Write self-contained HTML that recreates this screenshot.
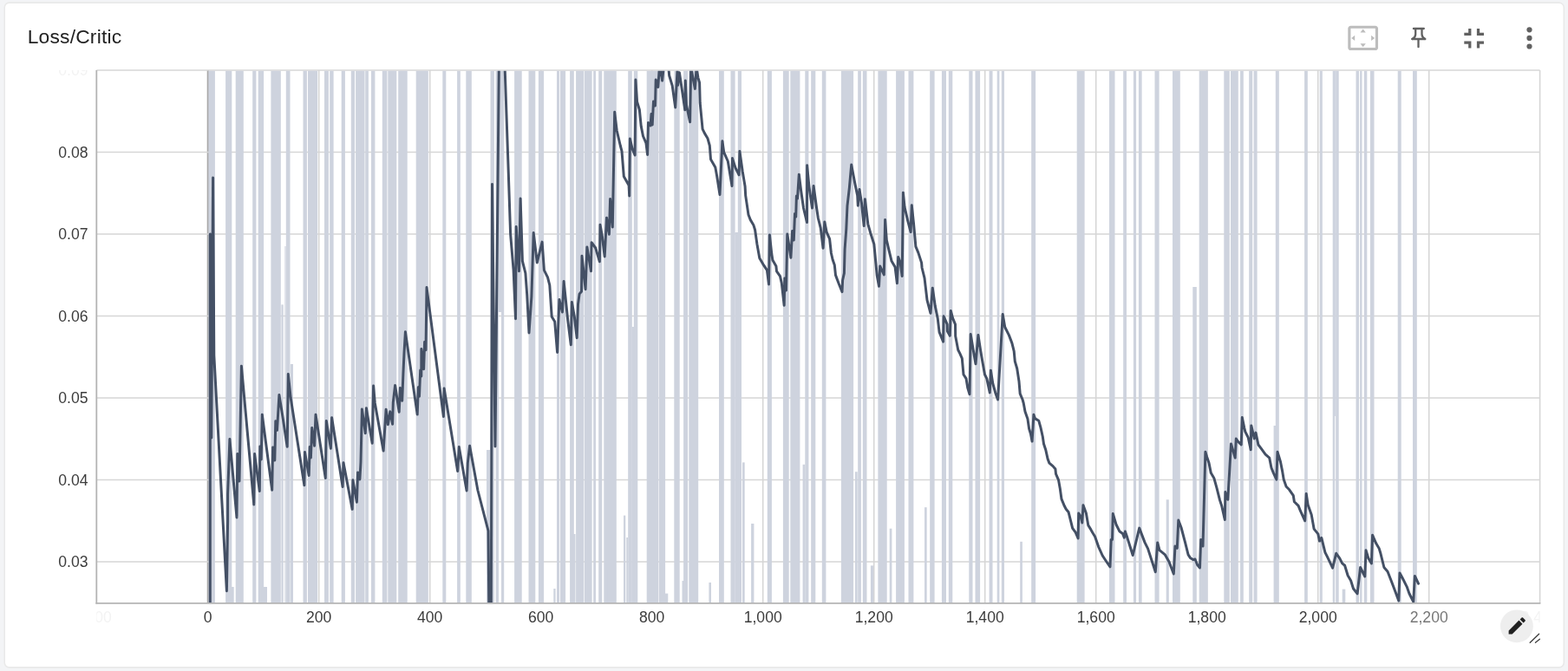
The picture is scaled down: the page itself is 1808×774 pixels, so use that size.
<!DOCTYPE html>
<html><head><meta charset="utf-8"><title>Loss/Critic</title>
<style>
html,body{margin:0;padding:0;}
body{width:1808px;height:774px;background:#f3f4f6;overflow:hidden;position:relative;font-family:"Liberation Sans",Arial,sans-serif;}
.title{position:absolute;left:31.7px;top:28.3px;font-size:22.8px;line-height:28px;color:#222;white-space:nowrap;letter-spacing:0.2px;}
svg.chart,svg.icons{position:absolute;left:0;top:0;}
</style></head>
<body>
<svg class="chart" width="1808" height="774" viewBox="0 0 1808 774"><defs><clipPath id="plotclip"><rect x="111.30" y="81.80" width="1664.30" height="614.00"/></clipPath><clipPath id="xlabclip"><rect x="111.30" y="690" width="1664.30" height="40"/></clipPath><clipPath id="ylabclip"><rect x="40" y="81.00" width="80" height="40"/></clipPath></defs><rect x="5.2" y="3.1" width="1798.1" height="766.8" rx="5.6" fill="#fff" stroke="#e9e9e9" stroke-width="1.6"/><line x1="239.80" y1="81.00" x2="239.80" y2="695.80" stroke="#a8a8a8" stroke-width="2.2"/><line x1="367.70" y1="81.00" x2="367.70" y2="695.80" stroke="#d6d6d6" stroke-width="1.6"/><line x1="495.70" y1="81.00" x2="495.70" y2="695.80" stroke="#d6d6d6" stroke-width="1.6"/><line x1="623.70" y1="81.00" x2="623.70" y2="695.80" stroke="#d6d6d6" stroke-width="1.6"/><line x1="751.70" y1="81.00" x2="751.70" y2="695.80" stroke="#d6d6d6" stroke-width="1.6"/><line x1="879.70" y1="81.00" x2="879.70" y2="695.80" stroke="#d6d6d6" stroke-width="1.6"/><line x1="1007.70" y1="81.00" x2="1007.70" y2="695.80" stroke="#d6d6d6" stroke-width="1.6"/><line x1="1135.70" y1="81.00" x2="1135.70" y2="695.80" stroke="#d6d6d6" stroke-width="1.6"/><line x1="1263.70" y1="81.00" x2="1263.70" y2="695.80" stroke="#d6d6d6" stroke-width="1.6"/><line x1="1391.70" y1="81.00" x2="1391.70" y2="695.80" stroke="#d6d6d6" stroke-width="1.6"/><line x1="1519.70" y1="81.00" x2="1519.70" y2="695.80" stroke="#d6d6d6" stroke-width="1.6"/><line x1="1647.70" y1="81.00" x2="1647.70" y2="695.80" stroke="#d6d6d6" stroke-width="1.6"/><line x1="111.30" y1="648.00" x2="1775.60" y2="648.00" stroke="#d6d6d6" stroke-width="1.6"/><line x1="111.30" y1="553.50" x2="1775.60" y2="553.50" stroke="#d6d6d6" stroke-width="1.6"/><line x1="111.30" y1="459.00" x2="1775.60" y2="459.00" stroke="#d6d6d6" stroke-width="1.6"/><line x1="111.30" y1="364.50" x2="1775.60" y2="364.50" stroke="#d6d6d6" stroke-width="1.6"/><line x1="111.30" y1="270.00" x2="1775.60" y2="270.00" stroke="#d6d6d6" stroke-width="1.6"/><line x1="111.30" y1="175.50" x2="1775.60" y2="175.50" stroke="#d6d6d6" stroke-width="1.6"/><line x1="111.30" y1="81.00" x2="1775.60" y2="81.00" stroke="#d6d6d6" stroke-width="1.6"/><line x1="1775.60" y1="81.00" x2="1775.60" y2="695.80" stroke="#d6d6d6" stroke-width="1.6"/><g fill="#ced3de"><rect x="240.4" y="81.8" width="7.5" height="614.0"/><rect x="260.1" y="81.8" width="7.2" height="614.0"/><rect x="271.7" y="81.8" width="9.1" height="614.0"/><rect x="291.2" y="81.8" width="4.2" height="614.0"/><rect x="297.7" y="81.8" width="6.4" height="614.0"/><rect x="312.4" y="81.8" width="11.4" height="614.0"/><rect x="329.8" y="81.8" width="4.7" height="614.0"/><rect x="349.5" y="81.8" width="4.4" height="614.0"/><rect x="355.0" y="81.8" width="11.1" height="614.0"/><rect x="374.0" y="81.8" width="4.9" height="614.0"/><rect x="380.2" y="81.8" width="4.4" height="614.0"/><rect x="393.7" y="81.8" width="4.2" height="614.0"/><rect x="404.8" y="81.8" width="4.2" height="614.0"/><rect x="410.1" y="81.8" width="10.4" height="614.0"/><rect x="421.2" y="81.8" width="3.7" height="614.0"/><rect x="428.0" y="81.8" width="4.4" height="614.0"/><rect x="440.8" y="81.8" width="5.6" height="614.0"/><rect x="447.3" y="81.8" width="10.0" height="614.0"/><rect x="459.2" y="81.8" width="10.5" height="614.0"/><rect x="479.7" y="81.8" width="14.1" height="614.0"/><rect x="510.3" y="81.8" width="4.0" height="614.0"/><rect x="527.1" y="81.8" width="3.7" height="614.0"/><rect x="537.3" y="81.8" width="6.5" height="614.0"/><rect x="565.5" y="81.8" width="4.4" height="614.0"/><rect x="571.6" y="81.8" width="3.4" height="614.0"/><rect x="578.0" y="81.8" width="3.2" height="614.0"/><rect x="593.1" y="81.8" width="8.6" height="614.0"/><rect x="609.5" y="81.8" width="7.8" height="614.0"/><rect x="620.9" y="81.8" width="6.2" height="614.0"/><rect x="642.0" y="81.8" width="3.0" height="614.0"/><rect x="645.9" y="81.8" width="6.2" height="614.0"/><rect x="657.1" y="81.8" width="4.7" height="614.0"/><rect x="664.1" y="81.8" width="9.1" height="614.0"/><rect x="673.9" y="81.8" width="8.7" height="614.0"/><rect x="684.2" y="81.8" width="2.8" height="614.0"/><rect x="690.2" y="81.8" width="4.0" height="614.0"/><rect x="696.3" y="81.8" width="14.5" height="614.0"/><rect x="724.2" y="81.8" width="4.6" height="614.0"/><rect x="730.8" y="81.8" width="4.5" height="614.0"/><rect x="745.7" y="81.8" width="13.7" height="614.0"/><rect x="760.0" y="81.8" width="7.1" height="614.0"/><rect x="777.3" y="81.8" width="6.4" height="614.0"/><rect x="788.1" y="81.8" width="5.0" height="614.0"/><rect x="794.3" y="81.8" width="10.9" height="614.0"/><rect x="829.0" y="81.8" width="5.8" height="614.0"/><rect x="842.5" y="81.8" width="5.1" height="614.0"/><rect x="850.8" y="81.8" width="4.2" height="614.0"/><rect x="884.8" y="81.8" width="5.1" height="614.0"/><rect x="902.9" y="81.8" width="6.8" height="614.0"/><rect x="911.3" y="81.8" width="11.1" height="614.0"/><rect x="928.3" y="81.8" width="4.1" height="614.0"/><rect x="935.2" y="81.8" width="5.1" height="614.0"/><rect x="947.8" y="81.8" width="4.6" height="614.0"/><rect x="969.9" y="81.8" width="14.2" height="614.0"/><rect x="989.2" y="81.8" width="3.7" height="614.0"/><rect x="994.8" y="81.8" width="4.7" height="614.0"/><rect x="1012.4" y="81.8" width="10.3" height="614.0"/><rect x="1033.1" y="81.8" width="9.8" height="614.0"/><rect x="1047.5" y="81.8" width="5.9" height="614.0"/><rect x="1072.2" y="81.8" width="5.4" height="614.0"/><rect x="1085.9" y="81.8" width="5.1" height="614.0"/><rect x="1093.8" y="81.8" width="4.5" height="614.0"/><rect x="1117.3" y="81.8" width="4.2" height="614.0"/><rect x="1124.5" y="81.8" width="5.6" height="614.0"/><rect x="1140.6" y="81.8" width="3.9" height="614.0"/><rect x="1149.7" y="81.8" width="2.7" height="614.0"/><rect x="1154.8" y="81.8" width="3.2" height="614.0"/><rect x="1189.2" y="81.8" width="4.9" height="614.0"/><rect x="1241.7" y="81.8" width="8.9" height="614.0"/><rect x="1279.0" y="81.8" width="6.5" height="614.0"/><rect x="1295.2" y="81.8" width="3.8" height="614.0"/><rect x="1306.9" y="81.8" width="3.2" height="614.0"/><rect x="1312.9" y="81.8" width="3.7" height="614.0"/><rect x="1331.5" y="81.8" width="5.1" height="614.0"/><rect x="1352.0" y="81.8" width="8.8" height="614.0"/><rect x="1382.7" y="81.8" width="10.0" height="614.0"/><rect x="1411.3" y="81.8" width="6.5" height="614.0"/><rect x="1419.0" y="81.8" width="8.8" height="614.0"/><rect x="1430.1" y="81.8" width="3.7" height="614.0"/><rect x="1440.2" y="81.8" width="4.0" height="614.0"/><rect x="1445.6" y="81.8" width="4.0" height="614.0"/><rect x="1470.8" y="81.8" width="4.0" height="614.0"/><rect x="1504.1" y="81.8" width="3.7" height="614.0"/><rect x="1521.7" y="81.8" width="3.1" height="614.0"/><rect x="1536.7" y="81.8" width="2.5" height="614.0"/><rect x="1540.2" y="81.8" width="3.5" height="614.0"/><rect x="1563.5" y="81.8" width="3.5" height="614.0"/><rect x="1568.1" y="81.8" width="2.4" height="614.0"/><rect x="1572.8" y="81.8" width="3.5" height="614.0"/><rect x="1579.9" y="81.8" width="4.6" height="614.0"/><rect x="1611.7" y="81.8" width="4.0" height="614.0"/><rect x="1629.0" y="81.8" width="4.8" height="614.0"/><rect x="267.0" y="677.0" width="2.7" height="18.8"/><rect x="304.0" y="677.0" width="4.0" height="18.8"/><rect x="561.0" y="519.0" width="4.0" height="176.8"/><rect x="638.3" y="679.0" width="2.3" height="16.8"/><rect x="661.0" y="616.0" width="2.5" height="79.8"/><rect x="676.9" y="649.0" width="1.7" height="46.8"/><rect x="698.7" y="658.0" width="1.7" height="37.8"/><rect x="719.0" y="594.6" width="2.3" height="101.2"/><rect x="722.3" y="620.0" width="1.7" height="75.8"/><rect x="754.5" y="654.0" width="2.4" height="41.8"/><rect x="767.0" y="684.6" width="3.3" height="11.2"/><rect x="786.5" y="670.0" width="2.3" height="25.8"/><rect x="817.4" y="671.9" width="2.6" height="23.9"/><rect x="856.0" y="533.4" width="2.7" height="162.4"/><rect x="866.1" y="604.0" width="3.3" height="91.8"/><rect x="925.6" y="535.8" width="2.7" height="160.0"/><rect x="986.0" y="544.2" width="2.7" height="151.6"/><rect x="1003.9" y="652.4" width="3.3" height="43.4"/><rect x="1025.7" y="609.7" width="2.7" height="86.1"/><rect x="1066.0" y="585.2" width="2.7" height="110.6"/><rect x="1176.2" y="624.8" width="2.7" height="71.0"/><rect x="1344.7" y="576.3" width="3.1" height="119.5"/><rect x="1375.3" y="331.0" width="4.5" height="364.8"/><rect x="1468.6" y="491.0" width="2.6" height="204.8"/><rect x="1547.7" y="679.6" width="3.6" height="16.2"/><rect x="728.6" y="377.0" width="2.4" height="318.8"/><rect x="847.4" y="268.0" width="3.6" height="427.8"/><rect x="324.4" y="351.4" width="2.3" height="344.4"/><rect x="328.4" y="284.0" width="1.2" height="411.8"/><rect x="334.9" y="420.0" width="3.1" height="275.8"/><rect x="575.0" y="81.8" width="3.0" height="278.2"/><rect x="1539.1" y="81.8" width="1.2" height="398.2"/></g><g clip-path="url(#plotclip)"><polyline points="242.3,700.0 242.3,270.0 243.8,505.0 245.6,205.0 246.8,410.0 261.4,681.7 262.6,601.5 262.6,570.1 264.9,506.5 273.0,596.9 273.8,523.6 276.0,555.0 278.4,422.3 292.8,582.0 293.6,523.6 299.3,566.5 299.8,514.9 301.2,530.0 302.3,478.3 313.7,565.3 314.6,516.0 316.8,531.0 317.8,485.8 319.5,496.3 321.9,455.6 325.3,476.5 331.2,515.3 332.3,431.4 335.2,459.1 350.9,559.8 351.5,521.6 356.2,548.4 357.2,515.6 358.4,528.0 359.7,493.4 362.6,514.3 364.0,478.3 375.3,551.4 376.3,485.6 381.4,517.2 382.6,481.7 395.1,561.5 396.0,533.8 406.2,587.4 406.9,553.7 411.4,579.3 412.6,544.9 414.9,553.0 416.0,533.1 417.4,471.9 421.3,499.8 422.4,470.7 429.2,511.3 430.6,445.1 432.3,464.9 442.1,520.1 445.1,472.3 447.4,489.8 449.8,474.7 452.6,489.3 453.3,464.2 455.6,444.4 460.2,475.3 461.4,447.4 463.7,462.3 464.9,431.6 466.0,407.2 467.4,382.8 481.2,478.1 482.3,446.7 483.5,457.2 484.7,427.0 485.8,434.0 485.9,402.6 488.6,425.8 489.6,394.4 491.0,403.7 492.0,331.6 511.4,480.5 512.1,447.9 527.7,543.4 529.3,515.5 538.1,565.9 539.3,534.1 541.6,514.3 550.9,565.5 563.0,612.4 564.0,720.0 566.3,720.0 567.5,212.4 571.0,515.0 575.5,60.0 578.0,20.0 581.5,60.0 586.3,200.0 588.6,269.8 592.1,311.6 594.5,367.7 595.2,261.6 598.5,312.8 600.1,229.0 602.4,301.2 605.9,315.1 607.7,340.0 610.0,384.0 612.9,342.0 615.2,268.6 619.3,302.9 625.1,279.1 627.4,311.6 631.5,319.8 633.8,329.0 636.2,365.2 639.7,371.0 642.6,406.5 644.9,345.5 648.4,360.0 650.1,324.4 654.8,369.9 658.3,397.8 659.4,348.4 662.3,365.2 665.2,389.7 666.5,351.0 668.1,339.1 670.5,336.2 671.0,295.3 675.1,333.7 676.9,284.9 681.5,312.8 682.1,279.7 686.7,286.0 691.4,301.7 692.0,259.3 694.3,272.1 697.2,295.9 699.5,251.2 702.4,270.3 703.6,229.5 706.3,262.0 708.7,129.2 711.2,150.5 715.3,168.0 717.0,174.3 719.3,203.4 725.1,213.8 725.7,226.0 726.4,160.0 729.2,172.0 732.1,179.0 732.9,92.0 734.6,117.5 737.4,126.8 739.2,145.4 741.5,157.0 745.0,165.2 746.6,178.4 747.5,141.5 750.0,145.0 751.0,131.5 752.2,144.0 753.5,117.0 755.5,122.0 756.2,92.0 758.8,100.5 760.1,81.5 761.0,75.0 763.6,93.1 764.8,81.5 766.0,75.0 770.6,75.0 771.7,87.3 775.2,98.9 778.7,123.9 781.0,81.5 781.6,98.3 783.4,83.8 786.9,107.1 789.8,126.8 790.3,93.1 791.5,121.0 795.6,140.8 796.7,78.0 801.4,102.4 803.1,78.0 804.9,89.6 806.6,95.4 807.2,118.7 810.1,148.9 812.4,153.6 815.9,159.4 818.3,168.0 819.5,183.7 824.8,193.0 826.5,202.3 830.0,224.4 832.9,162.8 834.7,175.6 839.3,186.0 844.0,214.5 844.5,182.6 848.0,193.6 852.1,201.7 852.9,174.4 856.2,197.7 859.1,215.1 859.7,225.6 863.0,247.8 865.3,253.6 868.8,259.4 870.6,265.2 872.9,281.5 875.8,297.8 879.9,304.8 882.1,308.1 884.4,311.6 886.5,327.9 887.4,271.0 889.8,293.1 890.9,300.1 894.9,307.0 895.5,312.8 899.5,318.6 901.3,326.7 904.2,352.3 904.8,320.9 906.5,334.9 907.8,269.9 911.9,297.2 913.6,266.4 915.3,276.9 916.5,246.6 917.7,250.1 918.4,226.0 919.5,229.1 921.3,201.2 923.6,219.8 926.5,240.0 930.5,256.5 930.6,190.7 932.9,215.1 936.5,240.0 938.1,214.5 941.6,240.0 943.3,251.3 946.2,262.9 949.1,286.2 950.8,255.9 953.1,267.6 956.6,275.7 958.4,292.0 960.1,299.5 962.3,305.8 963.5,317.4 967.0,326.7 971.0,336.6 971.6,323.3 973.4,315.1 974.1,287.3 975.8,264.1 977.0,237.3 979.4,216.3 981.7,190.1 985.8,211.6 988.7,225.6 989.3,237.2 991.0,218.6 993.4,233.7 996.2,260.6 997.4,229.7 1000.8,258.3 1003.7,268.7 1007.8,281.5 1011.2,317.4 1013.5,330.2 1014.7,307.0 1019.3,316.9 1020.6,253.6 1022.3,276.9 1024.7,287.3 1028.1,301.3 1032.1,308.1 1034.4,326.7 1035.7,296.6 1038.0,302.4 1040.2,318.6 1041.4,222.2 1043.1,239.1 1046.6,254.2 1050.1,267.6 1051.3,236.7 1053.6,258.8 1055.9,284.4 1058.8,291.4 1062.6,303.1 1063.1,309.0 1066.0,320.6 1069.0,346.2 1073.0,361.3 1075.3,332.2 1078.3,353.1 1081.2,367.1 1083.1,383.1 1087.6,394.2 1088.1,364.8 1092.2,374.1 1092.4,382.0 1095.3,387.2 1096.3,358.4 1098.6,367.1 1101.5,374.1 1101.7,387.8 1104.7,403.5 1107.0,408.1 1109.3,413.4 1111.0,432.0 1114.0,436.6 1115.7,447.1 1118.0,454.7 1119.2,385.5 1122.1,402.9 1125.0,419.8 1127.9,386.6 1130.8,405.2 1132.6,415.7 1135.5,432.0 1137.8,436.6 1141.3,452.9 1142.4,427.3 1144.8,442.4 1147.7,452.9 1150.6,461.0 1156.2,362.4 1158.7,377.3 1163.4,386.6 1166.9,395.9 1169.2,405.2 1170.3,416.9 1172.7,425.0 1175.0,440.1 1176.2,454.1 1179.1,461.0 1180.2,465.0 1182.0,474.8 1184.9,482.9 1186.6,494.5 1188.4,500.3 1190.1,509.1 1191.9,478.3 1193.6,482.9 1197.7,485.2 1200.0,493.4 1202.3,503.8 1203.5,512.0 1205.8,519.0 1208.1,529.4 1209.9,534.1 1214.0,537.6 1216.9,541.0 1217.5,546.6 1220.5,553.6 1222.2,562.9 1224.0,575.7 1227.4,583.8 1229.2,587.3 1232.1,590.8 1234.4,600.1 1236.7,609.4 1240.2,614.1 1243.1,621.0 1243.7,592.0 1246.0,595.5 1247.8,603.0 1249.0,582.7 1252.4,592.0 1254.8,605.9 1257.7,610.6 1259.7,614.3 1262.6,619.0 1266.6,630.6 1271.3,641.0 1275.9,648.0 1280.0,653.8 1281.2,622.4 1282.5,622.4 1283.3,592.6 1287.0,605.0 1291.0,613.1 1294.5,615.5 1296.3,620.1 1297.4,613.1 1299.8,620.1 1306.2,640.5 1313.7,609.1 1320.1,625.9 1323.6,632.9 1332.3,659.7 1334.7,625.9 1337.0,634.7 1343.4,639.9 1348.0,648.0 1353.3,662.0 1355.0,630.0 1357.3,632.3 1358.8,600.1 1362.0,608.5 1366.6,625.9 1370.1,639.9 1372.4,643.4 1376.0,645.7 1378.0,645.0 1380.6,651.5 1383.5,655.0 1384.7,622.4 1387.0,630.0 1389.9,521.2 1391.6,527.0 1394.0,534.0 1396.3,545.6 1399.8,551.4 1403.0,562.9 1406.5,576.9 1408.8,583.8 1412.3,599.5 1412.9,567.6 1415.8,576.3 1419.5,511.9 1424.2,528.1 1425.3,506.0 1427.7,509.5 1431.2,513.0 1432.3,481.6 1434.7,493.3 1435.8,497.9 1439.3,504.9 1442.2,518.8 1442.8,490.9 1446.3,506.0 1448.0,499.1 1450.9,513.0 1454.4,517.7 1459.1,524.1 1463.7,528.1 1466.0,539.8 1468.4,545.6 1471.9,553.1 1473.0,521.2 1476.5,532.8 1478.8,544.4 1480.2,553.1 1483.1,561.3 1486.6,564.8 1491.3,571.7 1492.4,578.7 1497.1,583.4 1499.4,589.2 1504.7,600.8 1506.2,569.4 1508.1,582.2 1512.2,593.8 1515.1,610.1 1519.8,615.9 1521.5,624.1 1523.8,620.4 1527.9,637.1 1530.8,642.9 1536.6,655.1 1540.7,638.3 1544.8,644.1 1547.7,649.9 1550.6,652.2 1554.1,663.8 1557.6,669.7 1560.5,679.0 1565.1,684.8 1568.6,654.5 1573.8,665.0 1575.0,634.8 1577.9,644.1 1581.4,649.9 1582.6,617.3 1586.6,626.6 1590.1,632.4 1591.9,638.3 1595.9,654.5 1600.0,659.2 1604.1,669.7 1607.6,679.0 1612.8,692.9 1614.0,660.9 1617.4,667.3 1622.1,676.6 1625.0,684.8 1629.7,694.1 1631.4,664.4 1635.5,673.1" fill="none" stroke="#445065" stroke-width="3.0" stroke-linejoin="round" stroke-linecap="round"/></g><line x1="111.30" y1="81.00" x2="111.30" y2="696.60" stroke="#b4b4b4" stroke-width="1.8"/><line x1="110.40" y1="695.80" x2="1776.40" y2="695.80" stroke="#b4b4b4" stroke-width="1.8"/><g font-family="Liberation Sans, Arial, sans-serif" font-size="17.6" fill="#3c3c3c"><text x="101.5" y="654.10" text-anchor="end">0.03</text><text x="101.5" y="559.60" text-anchor="end">0.04</text><text x="101.5" y="465.10" text-anchor="end">0.05</text><text x="101.5" y="370.60" text-anchor="end">0.06</text><text x="101.5" y="276.10" text-anchor="end">0.07</text><text x="101.5" y="181.60" text-anchor="end">0.08</text><text x="239.70" y="718.2" text-anchor="middle">0</text><text x="367.70" y="718.2" text-anchor="middle">200</text><text x="495.70" y="718.2" text-anchor="middle">400</text><text x="623.70" y="718.2" text-anchor="middle">600</text><text x="751.70" y="718.2" text-anchor="middle">800</text><text x="879.70" y="718.2" text-anchor="middle">1,000</text><text x="1007.70" y="718.2" text-anchor="middle">1,200</text><text x="1135.70" y="718.2" text-anchor="middle">1,400</text><text x="1263.70" y="718.2" text-anchor="middle">1,600</text><text x="1391.70" y="718.2" text-anchor="middle">1,800</text><text x="1519.70" y="718.2" text-anchor="middle">2,000</text><text x="1647.70" y="718.2" text-anchor="middle" fill="#777777">2,200</text></g><g font-family="Liberation Sans, Arial, sans-serif" font-size="17.6" fill="#f3f3f3"><text clip-path="url(#xlabclip)" x="111.30" y="718.2" text-anchor="middle">-200</text><text clip-path="url(#xlabclip)" x="1775.60" y="718.2" text-anchor="middle">2,400</text><text clip-path="url(#ylabclip)" x="101.5" y="87.10" text-anchor="end">0.09</text></g></svg>
<div class="title">Loss/Critic</div>

<svg class="icons" width="1808" height="774" viewBox="0 0 1808 774">
  <!-- fit to data (settings_overscan) -->
  <g transform="translate(1552.7,24.9) scale(1.58)" fill="#bdbdbd">
    <path d="M12.01 5.5L10 8h4l-1.99-2.5zM18 10v4l2.5-1.99L18 10zM6 10l-2.5 2.01L6 14v-4zm8 6h-4l2.01 2.5L14 16zm7-13H3c-1.1 0-2 .9-2 2v14c0 1.1.9 2 2 2h18c1.1 0 2-.9 2-2V5c0-1.1-.9-2-2-2zm0 16.01H3V4.99h18v14.02z"/>
  </g>
  <!-- pin -->
  <g fill="none" stroke="#616161" stroke-width="2.3" stroke-linecap="round">
    <line x1="1629.9" y1="33" x2="1641.8" y2="33"/>
    <path d="M1632.2 33.5 V39.6 Q1632 43.2 1628.4 45"/>
    <path d="M1639.5 33.5 V39.6 Q1639.7 43.2 1643.2 45"/>
    <line x1="1628.4" y1="45" x2="1643.2" y2="45"/>
    <line x1="1635.5" y1="46" x2="1635.5" y2="54.2"/>
  </g>
  <!-- fullscreen exit -->
  <g transform="translate(1680.2,24.8) scale(1.62)" fill="#616161">
    <path d="M5 16h3v3h2v-5H5v2zm3-8H5v2h5V5H8v3zm6 11h2v-3h3v-2h-5v5zm2-11V5h-2v5h5V8h-3z"/>
  </g>
  <!-- more vert -->
  <g fill="#616161">
    <circle cx="1763.5" cy="34.3" r="3.1"/>
    <circle cx="1763.5" cy="43.9" r="3.1"/>
    <circle cx="1763.5" cy="53.5" r="3.1"/>
  </g>
  <!-- pencil button -->
  <circle cx="1748.9" cy="722.3" r="18.9" fill="#eeeeee"/>
  <g transform="translate(1736.4,709) scale(1.07)" fill="#212121">
    <path d="M3 17.25V21h3.75L17.81 9.94l-3.75-3.75L3 17.25zM20.71 7.04c.39-.39.39-1.02 0-1.41l-2.34-2.34c-.39-.39-1.02-.39-1.41 0l-1.83 1.83 3.75 3.75 1.83-1.83z"/>
  </g>
  <!-- resize handle -->
  <g stroke="#3c3c3c" stroke-width="1.3" stroke-linecap="round">
    <line x1="1764.2" y1="741.2" x2="1774.6" y2="731.3"/>
    <line x1="1770.4" y1="741.2" x2="1775.4" y2="737.2"/>
  </g>
</svg>

</body></html>
